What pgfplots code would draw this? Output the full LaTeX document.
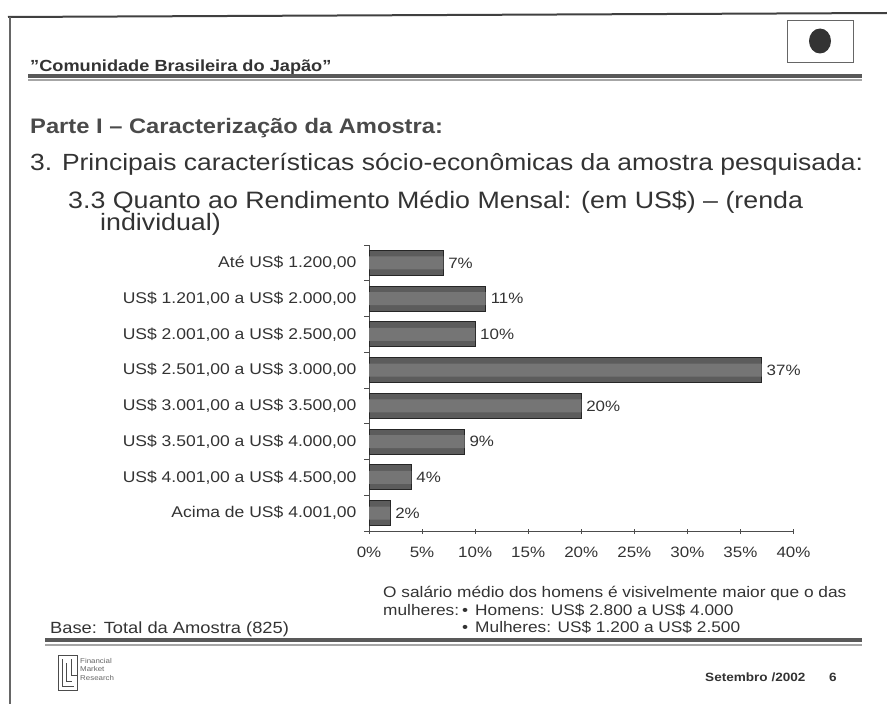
\documentclass[border=0pt]{standalone}
\usepackage{pgfplots}
\pgfplotsset{compat=1.18}
\usepackage{fontspec}
\setmainfont{Liberation Sans}[FakeStretch=1.13]
\definecolor{txt}{HTML}{333333}
\definecolor{ttl}{HTML}{4A4A4A}
\newcommand{\fs}[1]{\fontsize{#1bp}{#1bp}\selectfont}
\begin{document}
\begin{tikzpicture}[x=1bp,y=1bp]
\path[use as bounding box] (0,0) rectangle (887,-704);
% frame
\draw[line width=2bp, black!75] (8,-17) -- (887,-13);
\draw[line width=1.2bp, black!60] (10,-17) -- (10,-704);
% flag
\draw[line width=0.8bp, black!60] (787,-20) rectangle (853,-62);
\fill[black!80] (820,-41) ellipse [x radius=11, y radius=12.5];
% header
\node[anchor=base west, inner sep=0, font=\fs{16.1}\bfseries, text=txt] at (30,-72) {\symbol{34}Comunidade Brasileira do Japão\symbol{34}};
\draw[line width=3.5bp, black!65] (28,-76) -- (862,-76);
\draw[line width=2bp, black!35] (28,-80) -- (862,-80);
% titles
\node[anchor=base west, inner sep=0, font=\fs{21}\bfseries, text=ttl] at (30,-134) {Parte I – Caracterização da Amostra:};
\node[anchor=base west, inner sep=0, font=\fs{23.4}, text=txt] at (30,-171) {3. Principais características sócio-econômicas da amostra pesquisada:};
\node[anchor=base west, inner sep=0, font=\fs{23.7}, text=txt] at (68,-208) {3.3 Quanto ao Rendimento Médio Mensal: (em US\$) – (renda};
\node[anchor=base west, inner sep=0, font=\fs{23.7}, text=txt] at (100,-230) {individual)};
% chart
\begin{axis}[at={(369bp,-531bp)}, anchor=south west,
  scale only axis, width=424.5bp, height=286bp,
  xbar, bar width=25bp, bar shift=0pt,
  /pgf/number format/assume math mode=true,
  xmin=0, xmax=40, ymin=0.5, ymax=8.5,
  axis x line*=bottom, axis y line*=left,
  axis line style={black!70, line width=0.8bp},
  xtick={0,5,...,40},
  xticklabel={\pgfmathprintnumber{\tick}\%},
  xtick style={black!70, line width=0.8bp},
  x tick label style={font=\fs{15}, text=txt, yshift=-10bp},
  major tick length=5bp,
  xtick align=center,
  ytick={1,...,8},
  yticklabels={{Acima de US\$ 4.001,00}, {US\$ 4.001,00 a US\$ 4.500,00}, {US\$ 3.501,00 a US\$ 4.000,00}, {US\$ 3.001,00 a US\$ 3.500,00}, {US\$ 2.501,00 a US\$ 3.000,00}, {US\$ 2.001,00 a US\$ 2.500,00}, {US\$ 1.201,00 a US\$ 2.000,00}, {Até US\$ 1.200,00}},
  y tick label style={font=\fs{15.5}, text=txt, xshift=-4bp},
  major y tick style={draw=none},
  minor ytick={0.5,1.5,...,8.5},
  minor y tick style={black!70, line width=0.8bp},
  minor tick length=5bp,
  ytick align=outside,
  clip=false,
]
\addplot[draw=black!85, line width=0.9bp, fill=black!64] coordinates {
(2,1) (4,2) (9,3) (20,4) (37,5) (10,6) (11,7) (7,8)};
\addplot[draw=none, fill=black!54, bar width=13bp,
  nodes near coords={\pgfmathprintnumber{\pgfplotspointmeta}\%},
  point meta=x,
  nodes near coords style={font=\fs{15}, text=txt, xshift=1.5bp}] coordinates {
(2,1) (4,2) (9,3) (20,4) (37,5) (10,6) (11,7) (7,8)};
\end{axis}
% notes
\node[anchor=base west, inner sep=0, font=\fs{15.3}, text=txt] at (383,-597) {O salário médio dos homens é visivelmente maior que o das};
\node[anchor=base west, inner sep=0, font=\fs{15.3}, text=txt] at (383,-615) {mulheres:};
\node[anchor=base west, inner sep=0, font=\fs{15.3}, text=txt] at (462,-615) {•\hspace{7bp}Homens: US\$ 2.800 a US\$ 4.000};
\node[anchor=base west, inner sep=0, font=\fs{15.3}, text=txt] at (462,-632) {•\hspace{7bp}Mulheres: US\$ 1.200 a US\$ 2.500};
\node[anchor=base west, inner sep=0, font=\fs{16.2}, text=txt] at (50,-633) {Base: Total da Amostra (825)};
% bottom band
\draw[line width=3.5bp, black!65] (45,-640) -- (862,-640);
\draw[line width=2bp, black!35] (45,-645) -- (862,-645);
% logo
\draw[black!70, line width=1bp] (58,-655) rectangle (77,-690);
\draw[black!70, line width=1bp] (62,-659) -- (62,-686) -- (74,-686);
\draw[black!70, line width=1bp] (66,-663) -- (66,-681) -- (72,-681);
\draw[black!70, line width=1bp] (71,-659) -- (71,-675) -- (77,-675);
\node[anchor=north west, inner sep=0, font=\fs{7}, text=black!60, align=left] at (80,-658) {Financial\\[1.5bp]Market\\[1.5bp]Research};
% footer
\node[anchor=base west, inner sep=0, font=\fs{12}\bfseries, text=txt] at (705,-681) {Setembro /2002};
\node[anchor=base west, inner sep=0, font=\fs{12}\bfseries, text=txt] at (829,-681) {6};
\end{tikzpicture}
\end{document}
